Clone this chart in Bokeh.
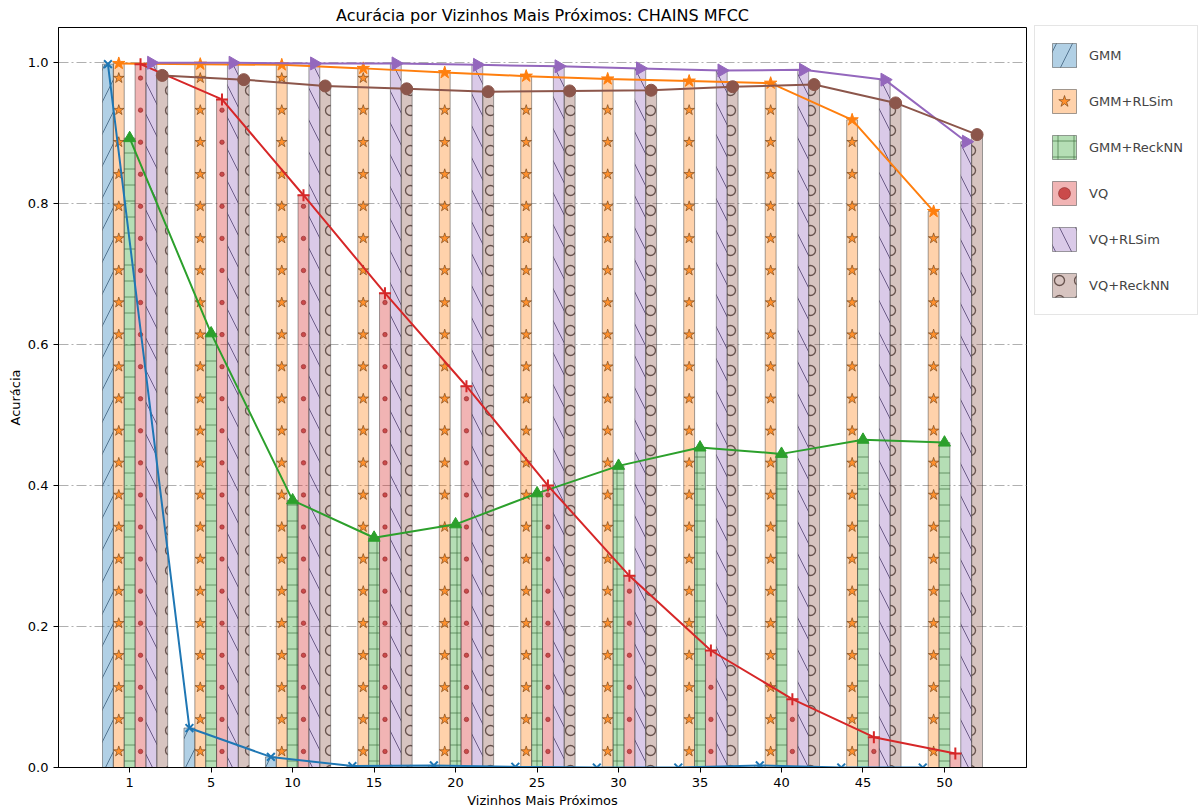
import numpy as np
from bokeh.plotting import figure
from bokeh.models import Range1d, FixedTicker, Legend, LegendItem, NumeralTickFormatter
from bokeh.embed import file_html
from bokeh.resources import INLINE

# ---------------- data ----------------
neighbors = [1, 5, 10, 15, 20, 25, 30, 35, 40, 45, 50]
series_names = ["GMM", "GMM+RLSim", "GMM+ReckNN", "VQ", "VQ+RLSim", "VQ+ReckNN"]
gmm = [0.998, 0.056, 0.015, 0.002, 0.003, 0.001, 0.0, 0.0, 0.003, 0.0, 0.0]
gmm_rlsim = [0.999, 0.998, 0.997, 0.992, 0.986, 0.981, 0.977, 0.974, 0.971, 0.919, 0.789]
gmm_recknn = [0.893, 0.616, 0.379, 0.326, 0.345, 0.389, 0.428, 0.454, 0.445, 0.465, 0.461]
vq = [0.998, 0.948, 0.812, 0.673, 0.541, 0.400, 0.272, 0.166, 0.097, 0.043, 0.020]
vq_rlsim = [1.0, 1.0, 0.999, 0.999, 0.997, 0.995, 0.992, 0.989, 0.990, 0.976, 0.888]
vq_recknn = [0.982, 0.976, 0.967, 0.963, 0.959, 0.960, 0.961, 0.966, 0.969, 0.943, 0.898]
y_ticks = [0.0, 0.2, 0.4, 0.6, 0.8, 1.0]

all_series = [gmm, gmm_rlsim, gmm_recknn, vq, vq_rlsim, vq_recknn]

# ---------------- styles ----------------
colors = ["#1f77b4", "#ff7f0e", "#2ca02c", "#d62728", "#9467bd", "#8c564b"]
hatch_patterns = ["/", " ", "+", " ", "\\", "o"]
hatch_scales = [32, 12, 16, 12, 32, 20]
hatch_colors = ["#2c4f6e", "#8a4a10", "#2f5f2f", "#a02020", "#3f2f60", "#4a3530"]
hatch_alphas = [0.7, 0.0, 0.6, 0.0, 0.7, 0.8]
hatch_weights = [1, 1, 1, 1, 1, 1.3]
markers = ["x", "star", "triangle", "cross", "triangle", "circle"]
marker_sizes = [11, 13, 12, 12, 13, 12]
marker_angles = [0, 0, 0, 0, -np.pi / 2, 0]
FONT = "DejaVu Sans"
STEP = 0.0455  # spacing of star / dot hatch decorations (data units)

n = len(neighbors)
w = 0.8 / 6
xi = np.arange(n)
xlo_d = -2.5 * w
xhi_d = (n - 1) + 3.5 * w
pad = 0.05 * (xhi_d - xlo_d)

p = figure(frame_width=968, frame_height=740, output_backend="svg", toolbar_location=None,
           x_range=Range1d(xlo_d - pad, xhi_d + pad), y_range=Range1d(0, 1.05),
           min_border_left=58, min_border_top=27, min_border_bottom=43, min_border_right=0,
           background_fill_color="white", border_fill_color="white")

p.title.text = "Acurácia por Vizinhos Mais Próximos: CHAINS MFCC"
p.title.align = "center"
p.title.text_font = FONT
p.title.text_font_size = "16px"
p.title.text_font_style = "normal"
p.title.text_color = "black"
p.title.standoff = 6

p.outline_line_color = "black"
p.outline_line_alpha = 1.0
p.outline_line_width = 1

# axes
p.xaxis.ticker = FixedTicker(ticks=[int(i) for i in xi])
p.xaxis.major_label_overrides = {int(i): str(k) for i, k in zip(xi, neighbors)}
p.yaxis.ticker = FixedTicker(ticks=y_ticks)
p.yaxis.formatter = NumeralTickFormatter(format="0.0")
for ax in (p.xaxis, p.yaxis):
    ax.axis_line_color = "black"
    ax.major_tick_line_color = "black"
    ax.major_tick_out = 5
    ax.major_tick_in = 0
    ax.minor_tick_line_color = None
    ax.major_label_text_font = FONT
    ax.major_label_text_font_size = "13px"
    ax.major_label_text_color = "black"
    ax.axis_label_text_font = FONT
    ax.axis_label_text_font_size = "13px"
    ax.axis_label_text_font_style = "normal"
    ax.axis_label_text_color = "black"
p.xaxis.axis_label = "Vizinhos Mais Próximos"
p.yaxis.axis_label = "Acurácia"
p.xaxis.axis_label_standoff = 3
p.yaxis.axis_label_standoff = 2

p.xgrid.visible = False
p.ygrid.ticker = FixedTicker(ticks=y_ticks)
p.ygrid.grid_line_color = "#b0b0b0"
p.ygrid.grid_line_dash = "10 3 2 3"
p.ygrid.grid_line_width = 1

bar_renderers = []
extra_renderers = {}
for i, (vals, c) in enumerate(zip(all_series, colors)):
    xs = xi + (i - 2) * w
    r = p.vbar(x=xs, top=vals, bottom=0, width=w,
               fill_color=c, fill_alpha=0.35,
               line_color="#444444", line_alpha=0.5, line_width=1,
               hatch_pattern=hatch_patterns[i], hatch_scale=hatch_scales[i],
               hatch_color=hatch_colors[i], hatch_alpha=hatch_alphas[i],
               hatch_weight=hatch_weights[i])
    bar_renderers.append(r)
    name = series_names[i]
    if name in ("GMM+RLSim", "VQ"):
        sx, sy = [], []
        for xb, hb in zip(xs, vals):
            yy = STEP / 2
            while yy < hb - 0.012:
                sx.append(xb)
                sy.append(yy)
                yy += STEP
        if name == "GMM+RLSim":
            sr = p.scatter(x=sx, y=sy, marker="star", size=11, fill_color=c, fill_alpha=0.8,
                           line_color="#6a3a10", line_alpha=0.75, line_width=0.8)
        else:
            sr = p.scatter(x=sx, y=sy, marker="circle", size=4.5, fill_color="#c03030",
                           fill_alpha=0.8, line_color="#7a1a1a", line_alpha=0.8, line_width=0.6)
        extra_renderers[i] = sr

for i, (vals, c) in enumerate(zip(all_series, colors)):
    xs = xi + (i - 2) * w
    p.line(x=xs, y=vals, line_color=c, line_width=2)
    if markers[i] in ("x", "cross"):
        p.scatter(x=xs, y=vals, marker=markers[i], size=marker_sizes[i],
                  line_color=c, line_width=2, fill_color=c)
    else:
        p.scatter(x=xs, y=vals, marker=markers[i], size=marker_sizes[i],
                  angle=marker_angles[i], line_color=c, fill_color=c, line_width=1)

items = []
for i, name in enumerate(series_names):
    rs = [bar_renderers[i]]
    if i in extra_renderers:
        rs.append(extra_renderers[i])
    items.append(LegendItem(label=name, renderers=rs))

legend = Legend(items=items, location=(8, 452), glyph_width=30, glyph_height=30,
                spacing=16, padding=14, margin=0, label_standoff=10,
                label_text_font=FONT, label_text_font_size="13px",
                border_line_color="#cccccc", border_line_width=1,
                background_fill_color="white", background_fill_alpha=1.0)
p.add_layout(legend, "right")

open("out.html", "w").write(file_html(p, INLINE))
